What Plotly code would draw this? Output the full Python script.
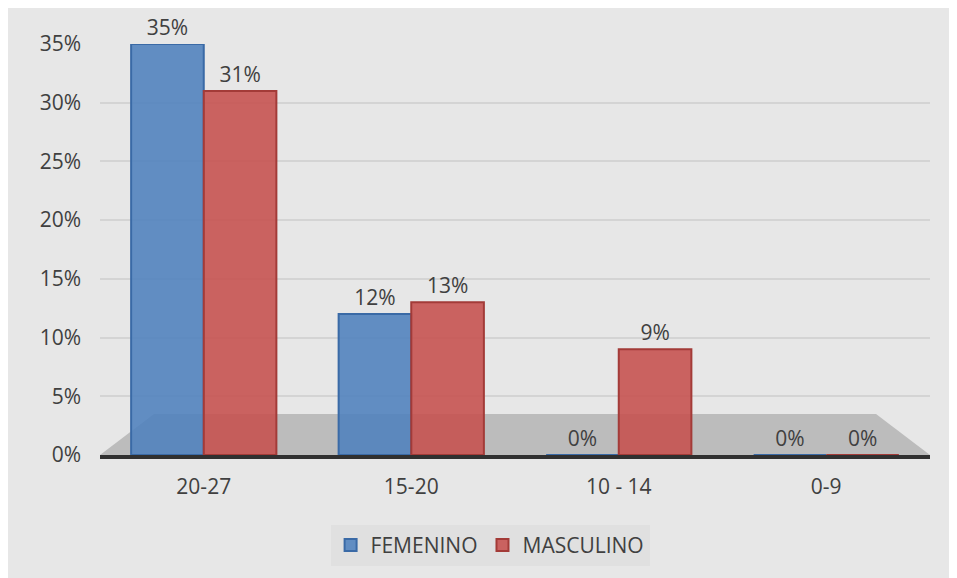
import plotly.graph_objects as go

categories = ["20-27", "15-20", "10 - 14", "0-9"]
femenino = [0.35, 0.12, 0.0, 0.0]
masculino = [0.31, 0.13, 0.09, 0.0]
tick_vals = [0, 0.05, 0.10, 0.15, 0.20, 0.25, 0.30, 0.35]
tick_text = ["0%", "5%", "10%", "15%", "20%", "25%", "30%", "35%"]

font_family = "Open Sans, Liberation Sans, Arial, sans-serif"
txt_color = "#404040"
fs = 21

fig = go.Figure()
fig.add_trace(go.Bar(
    name="FEMENINO", x=categories, y=femenino,
    marker=dict(color="rgba(79,129,189,0.88)", line=dict(color="#3a6aa6", width=2)),
    text=[f"{v*100:.0f}%" for v in femenino], textposition="outside",
    textfont=dict(size=fs, color=txt_color, family=font_family), cliponaxis=False,
))
fig.add_trace(go.Bar(
    name="MASCULINO", x=categories, y=masculino,
    marker=dict(color="rgba(198,80,77,0.88)", line=dict(color="#a33b38", width=2)),
    text=[f"{v*100:.0f}%" for v in masculino], textposition="outside",
    textfont=dict(size=fs, color=txt_color, family=font_family), cliponaxis=False,
))

# floor of the 3D-like chart (decoration)
fig.add_shape(type="path", xref="paper", yref="paper", layer="below",
              path="M 0,0 L 0.065,0.1 L 0.935,0.1 L 1,0 Z",
              fillcolor="#bcbcbc", line=dict(width=0))

fig.update_layout(
    width=957, height=578,
    margin=dict(l=92, r=35, t=36, b=131, autoexpand=False),
    paper_bgcolor="#e7e7e7",
    plot_bgcolor="rgba(0,0,0,0)",
    barmode="group", bargap=0.3, bargroupgap=0.0,
    font=dict(family=font_family, color=txt_color, size=fs),
    showlegend=True,
    legend=dict(orientation="h", x=0.47, xanchor="center", y=-0.17, yanchor="top",
                bgcolor="#e0e0e0", font=dict(size=fs, color=txt_color),
                itemwidth=30, traceorder="normal"),
    xaxis=dict(showgrid=False, showline=True, linecolor="#303030", linewidth=4,
               tickfont=dict(size=fs, color=txt_color), ticks="", ticklen=0,
               ticklabelstandoff=10),
    yaxis=dict(range=[0, 0.35], tickvals=tick_vals, ticktext=tick_text,
               showgrid=True, gridcolor="#d4d4d4", gridwidth=2, zeroline=False,
               tickfont=dict(size=fs, color=txt_color), ticks="", ticklabelstandoff=18),
)

fig.write_html("out.html")
